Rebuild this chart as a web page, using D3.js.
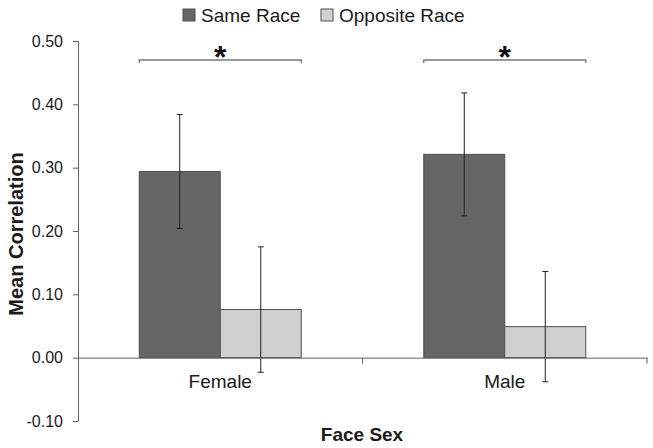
<!DOCTYPE html>
<html><head><meta charset="utf-8">
<script src="https://cdn.jsdelivr.net/npm/d3@7"></script>
<style>body{margin:0;background:#fff}svg{display:block;font-family:"Liberation Sans",Arial,sans-serif}</style>
</head><body><svg id="c" width="653" height="448"></svg>
<script>
const categories = ["Female", "Male"];
const seriesNames = ["Same Race", "Opposite Race"];
const sameRace = [0.294, 0.321];
const oppositeRace = [0.076, 0.049];
const sameRaceErr = [0.090, 0.097];
const oppositeRaceErr = [0.099, 0.087];
const yTicks = [-0.10, 0.00, 0.10, 0.20, 0.30, 0.40, 0.50];
const colors = ["#666666", "#d0d0d0"];

const svg = d3.select("#c");
const y = d3.scaleLinear().domain([-0.10, 0.50]).range([421, 41]);
const x0 = d3.scaleBand().domain(categories).range([78, 647]).paddingInner(0).paddingOuter(0);
const groupW = 162;
const x1 = d3.scaleBand().domain(seriesNames).range([0, groupW]);
const off = (x0.bandwidth() - groupW) / 2;

const data = categories.map((c, i) => ({
  cat: c,
  vals: [
    {s: seriesNames[0], v: sameRace[i], e: sameRaceErr[i]},
    {s: seriesNames[1], v: oppositeRace[i], e: oppositeRaceErr[i]}
  ]
}));

const axisColor = "#606060";
const fmt = d => d3.format(".2f")(d).replace("\u2212", "-");
// Y axis
const yAxis = svg.append("g").attr("transform", "translate(78,0)")
  .call(d3.axisLeft(y).tickValues(yTicks).tickFormat(fmt).tickSize(5).tickSizeOuter(0));
yAxis.select(".domain").attr("stroke", axisColor);
yAxis.selectAll(".tick line").attr("stroke", axisColor);
yAxis.selectAll(".tick text").attr("font-size", 16).attr("fill", "#1a1a1a")
  .attr("font-family", "Liberation Sans, Arial, sans-serif").attr("x", -15);

// bars
const g = svg.append("g");
const groups = g.selectAll("g.grp").data(data).join("g")
  .attr("transform", d => `translate(${x0(d.cat) + off},0)`);
groups.selectAll("rect").data(d => d.vals).join("rect")
  .attr("x", d => x1(d.s)).attr("width", x1.bandwidth())
  .attr("y", d => y(d.v)).attr("height", d => y(0) - y(d.v))
  .attr("fill", (d, i) => colors[i]).attr("stroke", "#505050").attr("stroke-width", 1);

// X axis line at zero
const xAxis = svg.append("g").attr("transform", `translate(0,${y(0)})`)
  .call(d3.axisBottom(x0).tickSize(0).tickSizeOuter(0));
xAxis.select(".domain").attr("stroke", axisColor);
xAxis.selectAll(".tick text").attr("font-size", 19).attr("fill", "#1a1a1a")
  .attr("font-family", "Liberation Sans, Arial, sans-serif").attr("y", 0).attr("dy", 30);
// category boundary ticks
const bounds = categories.map(c => x0(c) + x0.bandwidth());
svg.append("g").selectAll("line").data(bounds).join("line")
  .attr("x1", d => d).attr("x2", d => d).attr("y1", y(0)).attr("y2", y(0) + 6)
  .attr("stroke", axisColor);

// error bars
const eb = groups.selectAll("g.eb").data(d => d.vals).join("g")
  .attr("transform", d => `translate(${x1(d.s) + x1.bandwidth() / 2},0)`);
eb.append("line").attr("y1", d => y(d.v + d.e)).attr("y2", d => y(d.v - d.e)).attr("stroke", "#222");
eb.append("line").attr("x1", -3).attr("x2", 3).attr("y1", d => y(d.v + d.e)).attr("y2", d => y(d.v + d.e)).attr("stroke", "#222");
eb.append("line").attr("x1", -3).attr("x2", 3).attr("y1", d => y(d.v - d.e)).attr("y2", d => y(d.v - d.e)).attr("stroke", "#222");

// significance brackets
const br = svg.append("g").selectAll("g").data(categories).join("g")
  .attr("transform", d => `translate(${x0(d) + off},0)`);
br.append("path").attr("d", `M0,63V60H${groupW}V63`).attr("fill", "none").attr("stroke", "#777").attr("stroke-width", 1.3);
br.append("text").attr("x", groupW / 2).attr("y", 68).attr("text-anchor", "middle")
  .attr("font-size", 32).attr("font-weight", "bold").attr("fill", "#111").text("*");

// legend
const leg = svg.append("g");
const legX = [183, 321];
seriesNames.forEach((s, i) => {
  leg.append("rect").attr("x", legX[i]).attr("y", 9).attr("width", 12).attr("height", 12)
    .attr("fill", colors[i]).attr("stroke", "#505050");
  leg.append("text").attr("x", legX[i] + 18).attr("y", 22).attr("font-size", 19).attr("fill", "#1a1a1a").text(s);
});

// axis titles
svg.append("text").attr("transform", "translate(23,234) rotate(-90)").attr("text-anchor", "middle")
  .attr("font-size", 20).attr("font-weight", "bold").attr("fill", "#1a1a1a").text("Mean Correlation");
svg.append("text").attr("x", 362).attr("y", 441).attr("text-anchor", "middle")
  .attr("font-size", 19).attr("font-weight", "bold").attr("fill", "#1a1a1a").text("Face Sex");
</script></body></html>
